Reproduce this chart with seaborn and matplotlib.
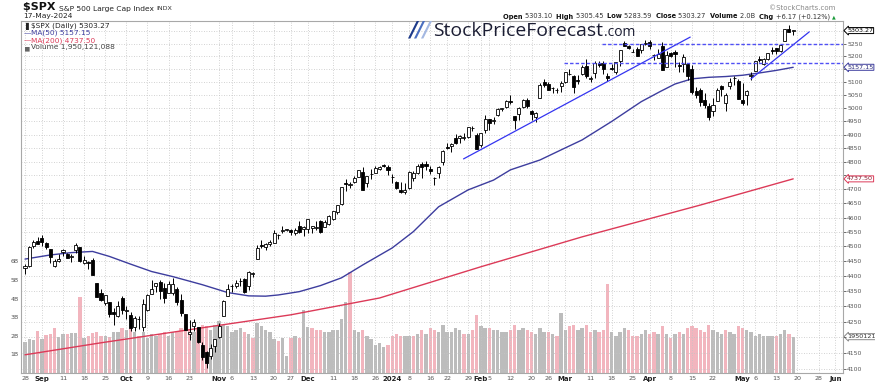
import pandas as pd
import matplotlib
matplotlib.use("Agg")
import matplotlib.pyplot as plt
import matplotlib.transforms as mtransforms
from matplotlib.ticker import NullLocator, NullFormatter
import seaborn as sns

W, H = 875, 385

HOLIDAYS = ["2023-09-04", "2023-11-23", "2023-12-25", "2024-01-01", "2024-01-15",
            "2024-02-19", "2024-03-29", "2024-05-27"]

# daily OHLC, Aug 28 2023 .. May 17 2024 (one line per month)
opens = [
    4426, 4432, 4501, 4518,
    4530, 4511, 4490, 4434, 4451, 4480, 4474, 4463, 4487, 4497, 4445, 4446, 4453, 4375, 4342, 4310, 4313, 4282, 4269, 4328,
    4284, 4270, 4234, 4260, 4234, 4289, 4339, 4366, 4380, 4360, 4342, 4345, 4357, 4322, 4274, 4211, 4235, 4232, 4175, 4153, 4140, 4171,
    4201, 4268, 4334, 4365, 4366, 4384, 4391, 4365, 4407, 4458, 4505, 4498, 4510, 4511, 4538, 4553, 4555, 4555, 4546, 4571, 4559,
    4560, 4565, 4564, 4587, 4568, 4576, 4594, 4618, 4646, 4722, 4714, 4725, 4744, 4764, 4724, 4754, 4758, 4773, 4786, 4782,
    4745, 4726, 4698, 4690, 4704, 4742, 4759, 4792, 4791, 4772, 4740, 4760, 4797, 4853, 4856, 4888, 4886, 4888, 4892, 4925, 4899,
    4862, 4917, 4957, 4951, 4973, 4996, 5004, 5026, 4968, 4976, 5003, 5032, 4990, 4964, 5039, 5100, 5093, 5075, 5068, 5085,
    5098, 5131, 5124, 5109, 5132, 5164, 5112, 5134, 5174, 5175, 5124, 5154, 5139, 5181, 5254, 5243, 5219, 5228, 5226, 5248,
    5258, 5204, 5194, 5243, 5158, 5212, 5217, 5167, 5172, 5171, 5150, 5065, 5068, 5031, 5006, 4988, 5028, 5085, 5019, 5084, 5114, 5103,
    5030, 5050, 5123, 5142, 5188, 5172, 5189, 5226, 5234, 5221, 5263, 5310, 5303.10,
]
highs = [
    4439, 4500, 4522, 4532,
    4541, 4514, 4491, 4458, 4473, 4490, 4478, 4474, 4511, 4498, 4466, 4451, 4461, 4376, 4357, 4338, 4313, 4293, 4317, 4334,
    4300, 4281, 4268, 4268, 4324, 4341, 4385, 4378, 4385, 4377, 4383, 4393, 4364, 4340, 4276, 4255, 4259, 4233, 4184, 4157, 4177, 4195,
    4245, 4320, 4374, 4372, 4386, 4392, 4393, 4418, 4415, 4505, 4521, 4511, 4521, 4557, 4542, 4569, 4560, 4561, 4562, 4587, 4569,
    4596, 4572, 4587, 4590, 4591, 4610, 4623, 4644, 4709, 4738, 4726, 4749, 4769, 4779, 4749, 4772, 4785, 4785, 4793, 4788,
    4755, 4729, 4727, 4721, 4765, 4765, 4791, 4798, 4802, 4783, 4744, 4785, 4842, 4868, 4867, 4903, 4898, 4907, 4929, 4932, 4906,
    4907, 4975, 4958, 4964, 4999, 5001, 5030, 5049, 4971, 5002, 5033, 5038, 4994, 4983, 5094, 5111, 5098, 5081, 5077, 5104,
    5140, 5149, 5127, 5127, 5165, 5190, 5125, 5180, 5180, 5180, 5136, 5170, 5179, 5225, 5261, 5246, 5229, 5236, 5249, 5264,
    5264, 5208, 5228, 5256, 5222, 5219, 5225, 5178, 5211, 5175, 5168, 5079, 5077, 5056, 5019, 5038, 5076, 5089, 5057, 5114, 5123, 5110,
    5096, 5069, 5140, 5181, 5200, 5192, 5215, 5239, 5234, 5250, 5311, 5325, 5305.45,
]
lows = [
    4407, 4431, 4494, 4507,
    4501, 4493, 4443, 4431, 4448, 4467, 4460, 4446, 4478, 4447, 4442, 4423, 4402, 4329, 4316, 4303, 4265, 4239, 4265, 4274,
    4260, 4220, 4220, 4225, 4220, 4283, 4339, 4346, 4325, 4311, 4342, 4337, 4304, 4269, 4223, 4190, 4219, 4181, 4128, 4103, 4132, 4154,
    4197, 4268, 4334, 4347, 4360, 4366, 4344, 4354, 4396, 4458, 4496, 4488, 4500, 4511, 4525, 4546, 4552, 4541, 4538, 4547, 4537,
    4546, 4546, 4557, 4546, 4566, 4575, 4593, 4611, 4643, 4694, 4705, 4721, 4743, 4698, 4709, 4737, 4758, 4768, 4780, 4751,
    4722, 4700, 4687, 4682, 4700, 4730, 4756, 4740, 4769, 4754, 4714, 4741, 4786, 4845, 4836, 4865, 4870, 4881, 4887, 4913, 4845,
    4854, 4907, 4918, 4940, 4970, 4988, 4999, 5017, 4920, 4956, 5000, 4999, 4955, 4946, 5037, 5081, 5068, 5058, 5058, 5061,
    5094, 5127, 5057, 5092, 5128, 5114, 5101, 5117, 5157, 5131, 5105, 5147, 5129, 5161, 5240, 5229, 5216, 5203, 5213, 5245,
    5229, 5184, 5194, 5146, 5157, 5197, 5160, 5138, 5139, 5107, 5052, 5039, 5008, 5001, 4954, 4969, 5027, 5047, 4990, 5073, 5089, 5035,
    5013, 5012, 5106, 5142, 5178, 5167, 5187, 5209, 5208, 5217, 5262, 5296, 5283.59,
]
closes = [
    4433, 4497, 4515, 4508,
    4516, 4497, 4465, 4451, 4457, 4487, 4462, 4467, 4505, 4450, 4454, 4444, 4402, 4330, 4320, 4337, 4274, 4275, 4300, 4288,
    4288, 4229, 4263, 4258, 4308, 4336, 4358, 4377, 4350, 4328, 4373, 4373, 4315, 4278, 4224, 4217, 4248, 4186, 4137, 4117, 4167, 4194,
    4237, 4318, 4358, 4365, 4378, 4383, 4347, 4415, 4411, 4496, 4502, 4508, 4514, 4547, 4538, 4556, 4559, 4550, 4555, 4551, 4568,
    4595, 4569, 4567, 4549, 4585, 4604, 4622, 4644, 4707, 4720, 4719, 4740, 4768, 4698, 4746, 4755, 4775, 4782, 4783, 4770,
    4743, 4705, 4689, 4697, 4764, 4757, 4783, 4780, 4784, 4766, 4739, 4780, 4840, 4851, 4865, 4869, 4894, 4891, 4928, 4925, 4846,
    4906, 4959, 4943, 4954, 4995, 4998, 5027, 5022, 4953, 5001, 5030, 5006, 4976, 4982, 5087, 5089, 5070, 5078, 5069, 5096,
    5137, 5131, 5079, 5105, 5157, 5124, 5117, 5175, 5165, 5150, 5117, 5149, 5179, 5225, 5241, 5234, 5218, 5203, 5248, 5254,
    5243, 5205, 5211, 5147, 5204, 5202, 5209, 5161, 5199, 5123, 5061, 5051, 5022, 5011, 4967, 5010, 5070, 5072, 5048, 5100, 5116, 5036,
    5018, 5064, 5128, 5181, 5187, 5188, 5214, 5223, 5221, 5247, 5308, 5297, 5303.27,
]
# volume in billions of shares
volumes = [
    1.65, 1.85, 1.78, 2.25,
    1.80, 2.02, 2.07, 2.39, 1.93, 2.07, 2.10, 2.13, 2.17, 4.06, 1.90, 1.96, 2.17, 2.20, 1.97, 2.00, 1.93, 2.20, 2.20, 2.40,
    2.30, 2.40, 2.20, 2.00, 2.20, 1.90, 2.10, 2.00, 2.10, 2.20, 2.00, 2.20, 2.20, 2.40, 2.60, 2.30, 2.20, 2.40, 2.60, 2.50, 2.30, 2.60,
    2.80, 2.60, 2.50, 2.20, 2.30, 2.40, 2.20, 2.10, 1.90, 2.70, 2.50, 2.30, 2.20, 1.80, 1.70, 1.90, 0.90, 1.90, 2.00, 1.90, 3.40,
    2.45, 2.40, 2.30, 2.30, 2.20, 2.20, 2.30, 2.30, 2.90, 3.80, 5.40, 2.30, 2.20, 2.30, 2.00, 1.80, 1.50, 1.60, 1.40, 1.50,
    2.00, 2.10, 2.00, 2.00, 2.00, 2.00, 2.10, 2.30, 2.10, 2.40, 2.30, 2.20, 2.60, 2.20, 2.20, 2.40, 2.30, 2.10, 2.10, 2.30, 3.10,
    2.50, 2.40, 2.40, 2.30, 2.30, 2.20, 2.20, 2.30, 2.60, 2.30, 2.40, 2.30, 2.20, 2.10, 2.40, 2.20, 2.20, 2.10, 2.00, 3.20,
    2.30, 2.50, 2.60, 2.30, 2.40, 2.60, 2.20, 2.30, 2.20, 2.30, 4.80, 2.20, 2.00, 2.20, 2.40, 2.30, 2.00, 2.00, 2.10, 2.30,
    2.10, 2.20, 2.10, 2.50, 2.10, 1.90, 2.10, 2.20, 2.10, 2.40, 2.50, 2.40, 2.30, 2.20, 2.60, 2.30, 2.20, 2.10, 2.30, 2.20, 2.10, 2.50,
    2.40, 2.30, 2.20, 2.00, 2.10, 2.00, 2.00, 2.00, 2.00, 2.10, 2.30, 2.10, 1.95,
]
prev_close_aug25 = 4406

# moving averages (trading-day number, value)
ma50_day = [0, 6, 11, 16, 20, 25, 30, 35, 42, 48, 53, 57, 60, 65, 70, 75, 80, 87, 92, 98, 105, 111,
            115, 122, 127, 132, 139, 146, 150.5, 154, 158, 162, 166, 170, 174, 178, 182]
ma50_val = [4457, 4471, 4479, 4483, 4466, 4440, 4415, 4398, 4371, 4345, 4334, 4333, 4337, 4348, 4368,
            4394, 4437, 4495, 4551, 4638, 4698, 4733, 4770, 4806, 4843, 4880, 4949, 5024, 5063, 5092,
            5112, 5118, 5121, 5126, 5135, 5145, 5157.15]
ma200_day = [0, 18, 42, 63, 84, 108, 132, 160, 182]
ma200_val = [4144, 4182, 4230, 4272, 4327, 4431, 4533, 4644, 4737.50]

# hand-drawn annotations (trading-day number, price)
trend1 = ([103.9, 157.6], [4810, 5277])
trend2 = ([172.0, 185.8], [5112, 5298])
level_hi = (136.8, 5250)
level_lo = (127.6, 5174)

tick_dates = ["2023-08-28", "2023-09-01", "2023-09-11", "2023-09-18", "2023-09-25", "2023-10-02",
              "2023-10-09", "2023-10-16", "2023-10-23", "2023-11-01", "2023-11-06", "2023-11-13",
              "2023-11-20", "2023-11-27", "2023-12-01", "2023-12-11", "2023-12-18", "2023-12-26",
              "2024-01-02", "2024-01-08", "2024-01-16", "2024-01-22", "2024-01-29", "2024-02-01",
              "2024-02-05", "2024-02-12", "2024-02-20", "2024-02-26", "2024-03-01", "2024-03-11",
              "2024-03-18", "2024-03-25", "2024-04-01", "2024-04-08", "2024-04-15", "2024-04-22",
              "2024-05-01", "2024-05-06", "2024-05-13", "2024-05-20", "2024-05-28", "2024-06-03"]
tick_labels = ["28", "Sep", "11", "18", "25", "Oct", "9", "16", "23", "Nov", "6", "13", "20", "27",
               "Dec", "11", "18", "26", "2024", "8", "16", "22", "29", "Feb", "5", "12", "20", "26",
               "Mar", "11", "18", "25", "Apr", "8", "15", "22", "May", "6", "13", "20", "28", "Jun"]
price_ticks = list(range(4100, 5301, 50))
hidden_price_labels = [4200, 4750, 5150, 5300]   # covered by the value tags
vol_ticks = [1, 2, 3, 4, 5, 6]
vol_tick_labels = ["1B", "2B", "3B", "4B", "5B", "6B"]

BLUE_MA = "#3d3d9e"
RED_MA = "#dc3a58"
GREY_TXT = "#555555"


def px(x, y):
    return x / W, 1 - y / H


def draw_seq(fig, x, y, parts, renderer):
    """Draw text pieces one after another on the same baseline."""
    texts = []
    for s, kw in parts:
        t = fig.text(*px(x, y), s, va="baseline", ha="left", **kw)
        x = t.get_window_extent(renderer=renderer).x1
        texts.append(t)
    return texts, x


def draw_seq_fit(fig, x0, x1, y, parts, renderer):
    texts, xe = draw_seq(fig, x0, y, parts, renderer)
    scale = (x1 - x0) / (xe - x0)
    for t in texts:
        t.remove()
    parts = [(s, dict(kw, fontsize=kw["fontsize"] * scale)) for s, kw in parts]
    return draw_seq(fig, x0, y, parts, renderer)


def main():
    sns.set_style("white")
    plt.rcParams["font.family"] = ["DejaVu Sans"]

    days = [d for d in pd.bdate_range("2023-08-28", "2024-06-07")
            if d.strftime("%Y-%m-%d") not in HOLIDAYS]
    pos = {d.strftime("%Y-%m-%d"): i for i, d in enumerate(days)}
    n = len(closes)
    idx = list(range(n))

    fig = plt.figure(figsize=(W / 100, H / 100), dpi=100)
    rect = [21 / W, 12 / H, (843 - 21) / W, (373 - 21) / H]
    ax_v = fig.add_axes(rect)
    ax = fig.add_axes(rect, sharex=ax_v)
    ax.patch.set_visible(False)

    # ---- volume (underneath)
    prev = [prev_close_aug25] + closes[:-1]
    vcol = ["#f2b5be" if c < p else "#bcbcbc" for c, p in zip(closes, prev)]
    ax_v.bar(idx, volumes, width=0.8, color=vcol, linewidth=0)
    ax_v.set_ylim(0, 18.9)
    ax_v.set_yticks(vol_ticks)
    ax_v.set_yticklabels(vol_tick_labels)
    ax_v.tick_params(axis="y", length=0, pad=1.5, labelsize=4.5, colors=GREY_TXT)
    ax_v.tick_params(axis="x", bottom=False, labelbottom=False)
    for sp in ax_v.spines.values():
        sp.set_visible(False)

    # ---- price axes
    ax.set_yscale("log")
    ax.set_ylim(4087, 5342)
    ax.set_xlim(-0.95, 193.8)
    ax.yaxis.set_major_locator(plt.FixedLocator(price_ticks))
    ax.yaxis.set_major_formatter(plt.FixedFormatter(
        ["" if p in hidden_price_labels else str(p) for p in price_ticks]))
    ax.yaxis.set_minor_locator(NullLocator())
    ax.yaxis.set_minor_formatter(NullFormatter())
    ax.yaxis.tick_right()
    ax.tick_params(axis="y", length=2, width=0.6, pad=1, labelsize=4.4,
                   colors=GREY_TXT)

    ax.set_xticks([pos[d] for d in tick_dates])
    ax.set_xticklabels(tick_labels)
    ax.tick_params(axis="x", length=0, pad=2, labelsize=4.6, colors=GREY_TXT)
    for lab in ax.get_xticklabels():
        if not lab.get_text().isdigit() or lab.get_text() == "2024":
            lab.set_fontweight("bold")
            lab.set_color("#222222")
            lab.set_fontsize(5)

    ax.grid(True, axis="both", which="major", linestyle=(0, (1, 2)),
            color="#c4c4c4", linewidth=0.6)
    ax.set_axisbelow(True)
    for sp in ax.spines.values():
        sp.set_color("#a8a8a8")
        sp.set_linewidth(0.8)

    # ---- moving averages
    sns.lineplot(x=ma200_day, y=ma200_val, ax=ax, color=RED_MA, linewidth=1.0, zorder=2)
    sns.lineplot(x=ma50_day, y=ma50_val, ax=ax, color=BLUE_MA, linewidth=1.0, zorder=2)

    # ---- candles
    ax.vlines(idx, lows, highs, color="black", linewidth=0.7, zorder=3)
    up = [i for i in idx if closes[i] >= opens[i]]
    dn = [i for i in idx if closes[i] < opens[i]]
    ax.bar(up, [max(closes[i] - opens[i], 1.0) for i in up], bottom=[opens[i] for i in up],
           width=0.72, facecolor="white", edgecolor="black", linewidth=0.6, zorder=4)
    ax.bar(dn, [opens[i] - closes[i] for i in dn], bottom=[closes[i] for i in dn],
           width=0.72, facecolor="black", edgecolor="black", linewidth=0.6, zorder=4)

    # ---- annotations
    ax.plot(*trend1, color="#3434f0", linewidth=0.9, zorder=5)
    ax.plot(*trend2, color="#3434f0", linewidth=0.9, zorder=5)
    xr = ax.get_xlim()[1]
    for x0, lvl in (level_hi, level_lo):
        ax.plot([x0, xr], [lvl, lvl], color="#5050f5", linewidth=1.0,
                linestyle=(0, (2.5, 1.5)), zorder=5)

    # ---- right-hand value tags
    tag_box = dict(boxstyle="larrow,pad=0.08", fc="white", lw=0.7)
    tr = mtransforms.blended_transform_factory(ax.transAxes, ax.transData)
    for val, txt, ec, fc_txt in ((5303.27, "5303.27", "black", "black"),
                                 (5157.15, "5157.15", BLUE_MA, "#2a2a7a"),
                                 (4737.50, "4737.50", RED_MA, "#8a1c30")):
        ax.text(1.005, val, txt, transform=tr, ha="left", va="center", fontsize=4.6,
                color=fc_txt, clip_on=False, zorder=10, bbox=dict(tag_box, ec=ec))
    trv = mtransforms.blended_transform_factory(ax_v.transAxes, ax_v.transData)
    ax_v.text(1.005, 1.95, "1950121", transform=trv, ha="left", va="center", fontsize=4.6,
              color="#333333", clip_on=False, zorder=10, bbox=dict(tag_box, ec="#888888"))

    # ---- legend block inside the chart
    lx = 24
    tx = lx + 7
    fs = 5.3
    fig.text(*px(lx + 1, 27.5), "\u258c", fontsize=fs, color="#222222", va="baseline")
    fig.text(*px(tx, 27.5), "$SPX (Daily) 5303.27", fontsize=fs, color="#222222",
             va="baseline")
    fig.text(*px(lx, 34.8), "\u2014", fontsize=fs, color=BLUE_MA, va="baseline")
    fig.text(*px(tx, 34.8), "MA(50) 5157.15", fontsize=fs, color=BLUE_MA, va="baseline")
    fig.text(*px(lx, 42.2), "\u2014", fontsize=fs, color=RED_MA, va="baseline")
    fig.text(*px(tx, 42.2), "MA(200) 4737.50", fontsize=fs, color=RED_MA, va="baseline")
    fig.text(*px(lx + 0.5, 49.5), "\u2586", fontsize=4.2, color="#666666", va="baseline")
    fig.text(*px(tx, 49.5), "Volume 1,950,121,088", fontsize=fs, color="#444444",
             va="baseline")

    r = fig.canvas.get_renderer()

    # ---- header
    draw_seq(fig, 23, 10.5, [("$SPX ", dict(fontsize=8, fontweight="bold", color="#111111")),
                             ("S&P 500 Large Cap Index ", dict(fontsize=5.4, color="#222222")),
                             ("INDX", dict(fontsize=4.6, color="#333333"))], r)
    fig.text(*px(23, 18), "17-May-2024", fontsize=5.4, color="#222222", va="baseline")
    fig.text(*px(835, 9.5), "\u00a9StockCharts.com", fontsize=5.0, color="#888888",
             va="baseline", ha="right")
    b = dict(fontsize=5.5, fontweight="bold", color="#111111")
    nb = dict(fontsize=5.5, color="#333333")
    draw_seq_fit(fig, 503, 838, 18.5,
                 [("Open ", b), ("5303.10  ", nb), ("High ", b), ("5305.45  ", nb),
                  ("Low ", b), ("5283.59  ", nb), ("Close ", b), ("5303.27  ", nb),
                  ("Volume ", b), ("2.0B  ", nb), ("Chg ", b),
                  ("+6.17 (+0.12%) ", nb),
                  ("\u25b2", dict(fontsize=4, color="#1a9a3a"))], r)

    # ---- watermark logo
    for k, c in enumerate(["#1d3a8a", "#4b6fc0", "#a4b8e2"]):
        fig.text(*px(409 + k * 6.5, 36), "/", fontsize=15, fontweight="bold",
                 color=c, va="baseline", style="italic")
    logo = fig.text(*px(433, 36.5), "StockPriceForecast", fontsize=16, color="#1b1d33",
                    va="baseline", family="Open Sans")
    w = logo.get_window_extent(renderer=r).width
    logo.set_fontsize(16 * 170 / w)
    x1 = logo.get_window_extent(renderer=r).x1
    fig.text(*px(x1 + 1, 36.5), ".com", fontsize=10, color="#1b1d33", va="baseline",
             family="Open Sans")

    fig.savefig("out.png", dpi=100)
    plt.close(fig)


if __name__ == "__main__":
    main()
